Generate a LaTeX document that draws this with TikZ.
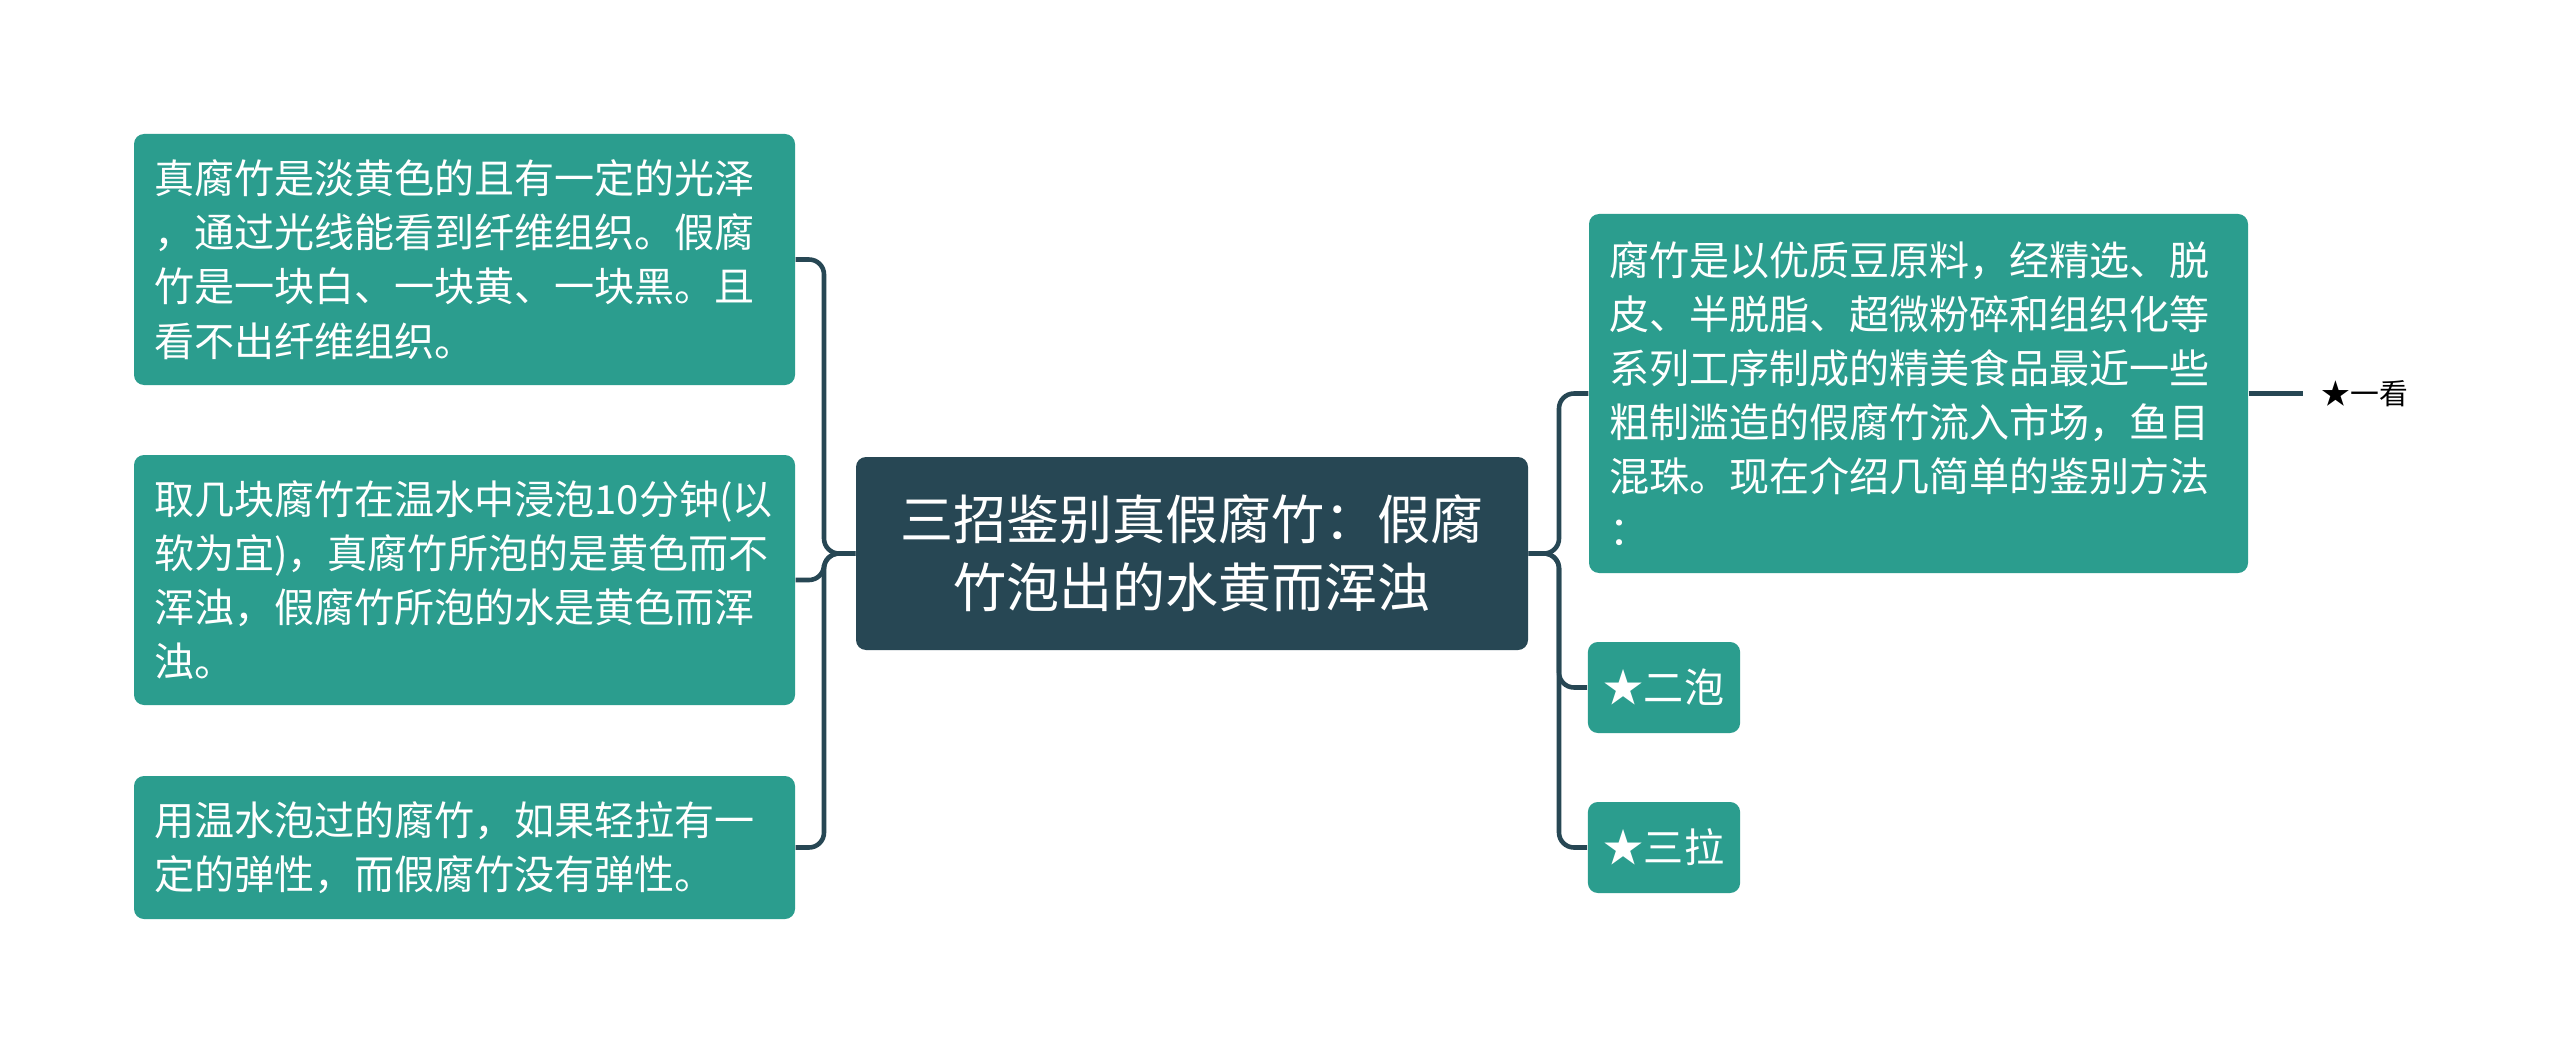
\documentclass[tikz,border=0pt]{standalone}
\usepackage{fontspec}
\setmainfont{Noto Sans CJK SC}
\usepackage{xcolor}
\usetikzlibrary{positioning,calc}

\definecolor{tealbox}{RGB}{43,157,142}
\definecolor{darkbox}{RGB}{39,71,84}

\begin{document}
\begin{tikzpicture}[
  conn/.style={draw=darkbox,line width=1.3pt,rounded corners=0.15cm},
  rootbox/.style={fill=darkbox,rounded corners=0.1cm,text=white,align=center,
    minimum width=6.72cm,minimum height=1.93cm,
    font=\fontsize{15.1}{19.5}\selectfont},
  detail/.style={fill=tealbox,rounded corners=0.1cm,text=white,align=left,
    inner xsep=0.2cm,text width=6.21cm,
    font=\fontsize{11.4}{15.4}\selectfont},
  method/.style={fill=tealbox,rounded corners=0.1cm,text=white,align=left,
    inner xsep=0.16cm,minimum width=1.5cm,minimum height=0.91cm,
    font=\fontsize{11.4}{15.4}\selectfont},
  leaftxt/.style={inner xsep=0.18cm,font=\fontsize{8.2}{10}\selectfont}]
  \fill[white] (0,0) rectangle (25.6,-10.54);
  \useasboundingbox (0,0) rectangle (25.6,-10.54);
  % centre
  \node[rootbox] (root) at (11.92,-5.535) {三招鉴别真假腐竹：假腐\\竹泡出的水黄而浑浊};
  % left: the three details
  \node[detail,minimum height=2.51cm] (d1) at (4.645,-2.595)
    {真腐竹是淡黄色的且有一定的光泽\\，通过光线能看到纤维组织。假腐\\竹是一块白、一块黄、一块黑。且\\看不出纤维组织。};
  \node[detail,minimum height=2.50cm] (d2) at (4.645,-5.80)
    {取几块腐竹在温水中浸泡10分钟(以\\软为宜)，真腐竹所泡的是黄色而不\\浑浊，假腐竹所泡的水是黄色而浑\\浊。};
  \node[detail,minimum height=1.43cm] (d3) at (4.645,-8.475)
    {用温水泡过的腐竹，如果轻拉有一\\定的弹性，而假腐竹没有弹性。};
  \coordinate (ls) at (8.24,-5.535);
  \foreach \n in {d1,d2,d3}
    \draw[conn] (root.west) -- (ls) |- (\n.east);
  % right: intro and the three methods
  \node[detail,text width=6.19cm,minimum height=3.59cm] (m1) at (19.185,-3.935)
    {腐竹是以优质豆原料，经精选、脱\\皮、半脱脂、超微粉碎和组织化等\\系列工序制成的精美食品最近一些\\粗制滥造的假腐竹流入市场，鱼目\\混珠。现在介绍几简单的鉴别方法\\：};
  \node[method] (m2) at (16.64,-6.875) {★二泡};
  \node[method] (m3) at (16.64,-8.475) {★三拉};
  \coordinate (rs) at (15.59,-5.535);
  \foreach \n in {m1,m2,m3}
    \draw[conn] (root.east) -- (rs) |- (\n.west);
  \node[leaftxt,right=0.54cm of m1] (leaf) {★一看};
  \draw[conn] (m1.east) -- (leaf.west);
\end{tikzpicture}
\end{document}
